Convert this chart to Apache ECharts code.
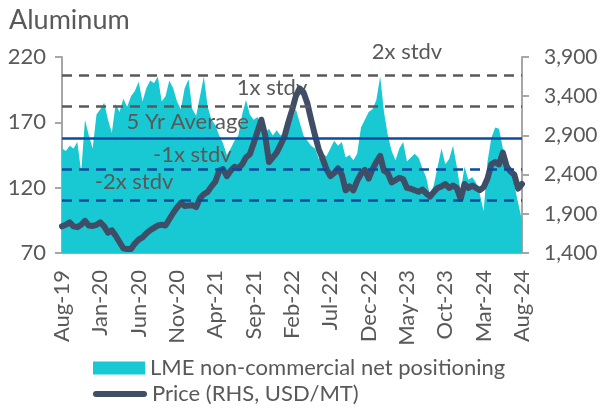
<!DOCTYPE html>
<html>
<head>
<meta charset="utf-8">
<script src="https://cdn.jsdelivr.net/npm/echarts@6/dist/echarts.min.js"></script>
<style>
  html, body { margin: 0; padding: 0; background: #fff; }
  #chart { width: 601px; height: 409px; }
</style>
</head>
<body>
<div id="chart"></div>
<script>
// x axis: months since Aug-19, two readings per month
var tickLabels = ["Aug-19", "Jan-20", "Jun-20", "Nov-20", "Apr-21", "Sep-21", "Feb-22",
  "Jul-22", "Dec-22", "May-23", "Oct-23", "Mar-24", "Aug-24"];

// LME non-commercial net positioning (LHS)
var positioning = [
  150, 148, 152, 150, 155, 132, 172, 160, 150, 176,
  180, 185, 172, 162, 184, 178, 188, 182, 190, 194,
  201, 186, 196, 202, 200, 205, 186, 190, 202, 196,
  186, 180, 196, 203, 180, 175, 190, 205, 182, 172,
  168, 160, 154, 145, 150, 156, 160, 176, 187, 176,
  172, 174, 166, 162, 165, 160, 164, 160, 162, 170,
  172, 180, 170, 160, 156, 152, 150, 142, 146, 144,
  150, 156, 152, 155, 143, 145, 141, 146, 166, 172,
  178, 180, 187, 205, 178, 160, 148, 141, 150, 155,
  140, 143, 146, 143, 135, 128, 114, 122, 136, 150,
  138, 142, 152, 136, 117, 136, 126, 128, 124, 115,
  102, 140, 158, 166, 165, 150, 144, 135, 122, 108,
  95
];

// Price (RHS, USD/MT)
var price = [
  1740, 1760, 1790, 1740, 1730, 1760, 1810, 1750, 1745, 1760,
  1790, 1740, 1660, 1690, 1620, 1540, 1460, 1450, 1450, 1520,
  1570, 1600, 1650, 1690, 1720, 1750, 1760, 1750, 1830, 1910,
  1980, 2040, 2000, 2005, 2010, 1985, 2100, 2150, 2180, 2250,
  2310, 2450, 2470, 2380, 2450, 2500, 2480, 2530, 2620, 2660,
  2800, 2950, 3100, 2900, 2560, 2620, 2680, 2780, 2880, 3060,
  3220, 3400, 3500, 3450, 3310, 3100, 2900, 2720, 2600, 2470,
  2380, 2420, 2480, 2400, 2200, 2250, 2200, 2320, 2410, 2460,
  2350, 2470, 2560, 2640, 2450, 2420, 2300, 2330, 2360, 2340,
  2230, 2220, 2200, 2180, 2210, 2160, 2120, 2180, 2230, 2250,
  2280, 2230, 2260, 2230, 2090, 2280, 2230, 2260, 2230, 2200,
  2240, 2350, 2530, 2560, 2530, 2680, 2500, 2440, 2400, 2220,
  2280
];

// reference bands (LHS units)
var bandNames = ["2x stdv", "1x stdv", "5 Yr Average", "-1x stdv", "-2x stdv"];
var bandValues = [206, 182, 158, 134, 110];

var gray = "#595959";
var font = "Lato";

function toPairs(arr) {
  return arr.map(function (v, i) { return [i / 2, v]; });
}

var bandStyles = [
  { color: "#595959", type: [10, 7] },
  { color: "#595959", type: [10, 7] },
  { color: "#0D4A9F", type: "solid" },
  { color: "#0D4A9F", type: [10, 7] },
  { color: "#0D4A9F", type: [10, 7] }
];

var chart = echarts.init(document.getElementById("chart"));

var option = {
  animation: false,
  textStyle: { fontFamily: font },
  title: {
    text: "Aluminum",
    left: 4,
    top: 2,
    textStyle: { fontSize: 27, fontWeight: "normal", color: gray, fontFamily: font }
  },
  grid: { left: 62, right: 79, top: 57, bottom: 156 },
  legend: [
    {
      data: ["LME non-commercial net positioning"],
      left: 88,
      top: 352,
      icon: "rect",
      itemWidth: 52,
      itemHeight: 13,
      itemGap: 5,
      textStyle: { fontSize: 22, color: gray, fontFamily: font }
    },
    {
      data: ["Price (RHS, USD/MT)"],
      left: 88,
      top: 378,
      icon: "path://M3,0 L51,0 A3,3 0 0 1 51,6 L3,6 A3,3 0 0 1 3,0 Z",
      itemWidth: 54,
      itemHeight: 6,
      itemStyle: { borderWidth: 0 },
      textStyle: { fontSize: 22, color: gray, fontFamily: font }
    }
  ],
  xAxis: {
    type: "value",
    min: 0,
    max: 60,
    interval: 5,
    axisLine: { lineStyle: { color: "#A6A6A6", width: 2 } },
    axisTick: { show: false },
    splitLine: { show: false },
    axisLabel: {
      rotate: 90,
      margin: 17,
      fontSize: 22,
      color: gray,
      formatter: function (v) { return tickLabels[Math.round(v / 5)] || ""; }
    }
  },
  yAxis: [
    {
      type: "value",
      min: 70,
      max: 220,
      interval: 50,
      axisLine: { show: true, lineStyle: { color: "#A6A6A6", width: 2 } },
      axisTick: { show: true, length: 7, lineStyle: { color: "#A6A6A6", width: 2 } },
      splitLine: { show: false },
      axisLabel: { margin: 16, fontSize: 22, color: gray }
    },
    {
      type: "value",
      min: 1400,
      max: 3900,
      interval: 500,
      position: "right",
      axisLine: { show: true, lineStyle: { color: "#A6A6A6", width: 2 } },
      axisTick: { show: true, length: 7, lineStyle: { color: "#A6A6A6", width: 2 } },
      splitLine: { show: false },
      axisLabel: {
        margin: 22,
        fontSize: 21,
        color: gray,
        formatter: function (v) { return v.toLocaleString("en-US"); }
      }
    }
  ],
  series: [
    {
      name: "LME non-commercial net positioning",
      type: "line",
      yAxisIndex: 0,
      symbol: "none",
      color: "#18C8D2",
      lineStyle: { width: 0 },
      areaStyle: { color: "#18C8D2", opacity: 1, origin: "start" },
      z: 2,
      data: toPairs(positioning),
      markLine: {
        silent: true,
        symbol: "none",
        label: { show: false },
        data: bandValues.map(function (v, i) {
          return { yAxis: v, lineStyle: { color: bandStyles[i].color, type: bandStyles[i].type, width: 2.5 } };
        })
      }
    },
    {
      name: "Price (RHS, USD/MT)",
      type: "line",
      yAxisIndex: 1,
      symbol: "none",
      color: "#3F4E66",
      lineStyle: { width: 6, cap: "round", join: "round" },
      z: 4,
      data: toPairs(price)
    }
  ]
};

chart.setOption(option);

// band labels placed in data space [month, LHS value]
var labelSpots = [[45.0, 223.8], [27.4, 196.2], [16.4, 170.2], [17.0, 145.0], [9.4, 124.3]];
chart.setOption({
  graphic: bandNames.map(function (name, i) {
    var p = chart.convertToPixel({ xAxisIndex: 0, yAxisIndex: 0 }, labelSpots[i]);
    return {
      type: "text",
      x: p[0],
      y: p[1],
      z: 3,
      silent: true,
      style: {
        text: name,
        fill: gray,
        font: "22px " + font,
        align: "center",
        verticalAlign: "middle"
      }
    };
  })
});
</script>
</body>
</html>
